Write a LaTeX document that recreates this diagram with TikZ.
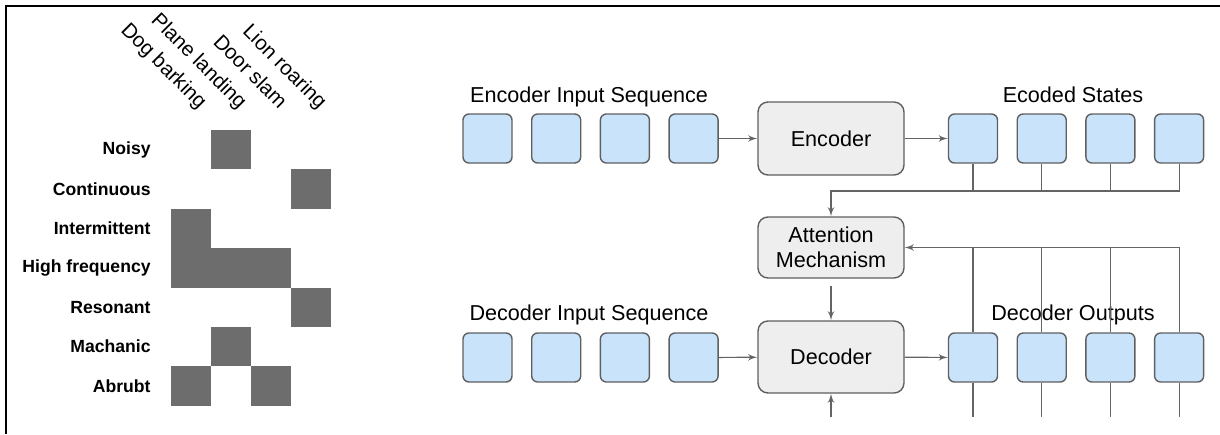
\documentclass[tikz,border=0pt]{standalone}
\usepackage{fontspec}
\setmainfont{Liberation Sans}
\usepackage{xcolor}
\usepackage{tikz}
\usetikzlibrary{arrows, positioning, calc}

\definecolor{cellgray}{RGB}{109,109,109}
\definecolor{seqblue}{RGB}{201,227,251}
\definecolor{boxline}{RGB}{95,95,95}
\definecolor{blockfill}{RGB}{238,238,238}
\definecolor{linegray}{RGB}{100,100,100}

\begin{document}
\begin{tikzpicture}[x=0.5pt,y=-0.5pt,>=latex',node distance=34.35pt,
			seq node/.style={rectangle,rounded corners=3pt,draw=boxline,fill=seqblue,line width=0.7pt,minimum size=24.5pt,inner sep=0pt},
			block node/.style={rectangle,rounded corners=5pt,draw=boxline,fill=blockfill,line width=0.7pt,minimum width=73pt,align=center,font=\fontsize{10.8}{12.5}\selectfont},
			row label/.style={anchor=east,inner sep=0pt,font=\bfseries\fontsize{8.8}{10}\selectfont},
			col label/.style={anchor=base east,rotate=-45,inner sep=0pt,font=\fontsize{10.3}{12}\selectfont},
			title/.style={anchor=base,inner sep=0pt,font=\fontsize{10.8}{13}\selectfont},
			link/.style={draw=linegray,line width=0.6pt}]
			
			\useasboundingbox (0,0) rectangle (1220,434);
			\draw[line width=1pt] (5.7,434) -- (5.7,6) -- (1220,6);
			
			% sound / attribute grid
			\node[col label] (dog) at (199,110) {Dog barking};
			\node[col label] (plane) at (239,110) {Plane landing};
			\node[col label] (door) at (279,110) {Door slam};
			\node[col label] (lion) at (319,110) {Lion roaring};
			
			\node[row label] (noisy) at (151,149.7) {Noisy};
			\node[row label] (cont) at (151,189.1) {Continuous};
			\node[row label] (inter) at (151,228.5) {Intermittent};
			\node[row label] (high) at (151,267.9) {High frequency};
			\node[row label] (reso) at (151,307.3) {Resonant};
			\node[row label] (mach) at (151,346.7) {Machanic};
			\node[row label] (abr) at (151,386.1) {Abrubt};
			
			\fill[cellgray] (211,130) rectangle ++(40,39.4);
			\fill[cellgray] (291,169.4) rectangle ++(40,39.4);
			\fill[cellgray] (171,208.8) rectangle ++(40,39.4);
			\fill[cellgray] (171,248.2) rectangle ++(120,39.4);
			\fill[cellgray] (291,287.6) rectangle ++(40,39.4);
			\fill[cellgray] (211,327) rectangle ++(40,39.4);
			\fill[cellgray] (171,366.4) rectangle ++(40,39.4);
			\fill[cellgray] (251,366.4) rectangle ++(40,39.4);
			
			% encoder / decoder
			\node[title] (eintitle) at (589,102) {Encoder Input Sequence};
			\node[title] (sttitle) at (1073,102) {Ecoded States};
			\node[title] (dintitle) at (589,320) {Decoder Input Sequence};
			\node[title] (outtitle) at (1073,320) {Decoder Outputs};
			
			\node[seq node] (ei1) at (487.5,138.5) {};
			\node[seq node] (ei2) [right of=ei1] {};
			\node[seq node] (ei3) [right of=ei2] {};
			\node[seq node] (ei4) [right of=ei3] {};
			
			\node[block node,minimum height=36.5pt] (enc) at (831,138.5) {Encoder};
			\node[block node,minimum height=30.5pt] (att) at (831,247.5) {Attention\\Mechanism};
			\node[block node,minimum height=36pt] (dec) at (831,357) {Decoder};
			
			\node[seq node] (s1) at (973,138.5) {};
			\node[seq node] (s2) [right of=s1] {};
			\node[seq node] (s3) [right of=s2] {};
			\node[seq node] (s4) [right of=s3] {};
			
			\node[seq node] (di1) at (487.5,357.5) {};
			\node[seq node] (di2) [right of=di1] {};
			\node[seq node] (di3) [right of=di2] {};
			\node[seq node] (di4) [right of=di3] {};
			
			\node[seq node] (o1) at (973,357.5) {};
			\node[seq node] (o2) [right of=o1] {};
			\node[seq node] (o3) [right of=o2] {};
			\node[seq node] (o4) [right of=o3] {};
			
			\coordinate (encbus) at (831,191);
			\coordinate (bottom) at (831,417);
			
			\draw[link,->] (ei4) -- (enc);
			\draw[link,->] (enc) -- (s1);
			\draw[link,->] (di4) -- (dec);
			\draw[link,->] (dec) -- (o1);
			
			\draw[link] (s1.south) -- (s1.south |- encbus);
			\draw[link] (s2.south) -- (s2.south |- encbus);
			\draw[link] (s3.south) -- (s3.south |- encbus);
			\draw[link,->] (s4.south) |- (encbus) -- (att.north);
			
			\draw[link] (o1.north) -- (o1.north |- att.east);
			\draw[link] (o2.north) -- (o2.north |- att.east);
			\draw[link] (o3.north) -- (o3.north |- att.east);
			\draw[link,->] (o4.north) |- (att.east);
			
			\draw[link] (o1.south) -- (o1.south |- bottom);
			\draw[link] (o2.south) -- (o2.south |- bottom);
			\draw[link] (o3.south) -- (o3.south |- bottom);
			\draw[link] (o4.south) -- (o4.south |- bottom);
			
			\draw[link,->,shorten <=3.5pt] (att) -- (dec);
			\draw[link,->] (bottom) -- (dec);
		
		\end{tikzpicture}
\end{document}
